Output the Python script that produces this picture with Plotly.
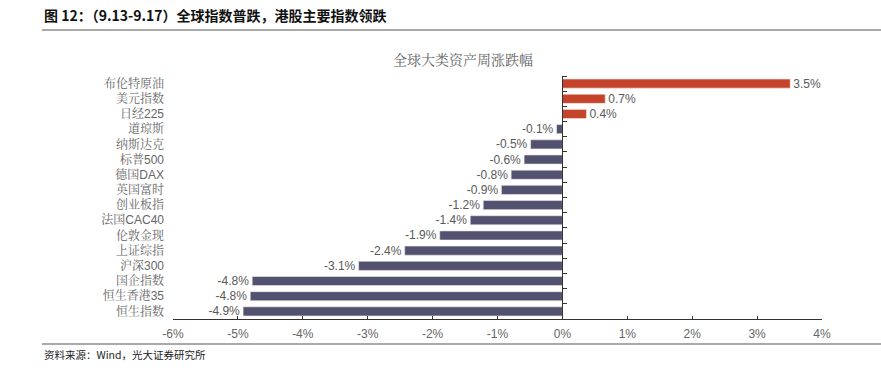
import plotly.graph_objects as go

categories = ["布伦特原油", "美元指数", "日经225", "道琼斯", "纳斯达克", "标普500", "德国DAX",
              "英国富时", "创业板指", "法国CAC40", "伦敦金现", "上证综指", "沪深300",
              "国企指数", "恒生香港35", "恒生指数"]
values = [3.51, 0.66, 0.37, -0.09, -0.49, -0.59, -0.79, -0.94, -1.22, -1.42, -1.89,
          -2.43, -3.14, -4.78, -4.81, -4.92]
x_ticks = [-6, -5, -4, -3, -2, -1, 0, 1, 2, 3, 4]

RED = "#C5432B"
NAVY = "#52516F"
colors = [RED if v > 0 else NAVY for v in values]

W, H = 881, 376
L, R, T, B = 173, 59, 76, 57
PW, PH = W - L - R, H - T - B

def px(x):
    return (x - L) / PW

def py(y):
    return (H - B - y) / PH

SERIF_MIX = "Liberation Sans, Noto Serif CJK SC, Noto Sans CJK SC, serif"
n = len(categories)

fig = go.Figure()
fig.add_trace(go.Bar(
    x=values, y=categories, orientation="h",
    marker=dict(color=colors, line=dict(color="#f3e9e6", width=0.6)),
    width=0.6,
    text=[f"{v:.1f}%" for v in values],
    textposition="outside",
    constraintext="none",
    textfont=dict(family="Liberation Sans, Arial, sans-serif", size=12, color="#595959"),
    cliponaxis=False,
    hoverinfo="skip",
))
fig.add_trace(go.Scatter(
    x=[0] * n, y=categories, yaxis="y2", mode="lines",
    line=dict(width=0), hoverinfo="skip", showlegend=False,
))

fig.update_layout(
    width=W, height=H,
    margin=dict(l=L, r=R, t=T, b=B, autoexpand=False),
    paper_bgcolor="white", plot_bgcolor="white",
    showlegend=False,
    font=dict(family="Noto Sans CJK SC, sans-serif", color="#595959"),
    xaxis=dict(
        range=[-6, 4], tickvals=x_ticks, ticktext=[f"{t}%" for t in x_ticks],
        ticks="inside", ticklen=3, tickcolor="#333", showline=True, linecolor="#333",
        linewidth=1, showgrid=False, zeroline=False, automargin=False,
        tickfont=dict(family="Liberation Sans Narrow, Arial Narrow, sans-serif", size=12, color="#666"),
        ticklabelstandoff=4,
    ),
    yaxis=dict(
        type="category", categoryorder="array", categoryarray=categories,
        range=[n - 0.5, -0.5], autorange=False,
        showgrid=False, zeroline=False,
        showline=False, ticks="", ticklabelstandoff=8, automargin=False,
        tickfont=dict(family=SERIF_MIX, size=12, color="#666"),
    ),
    yaxis2=dict(
        overlaying="y", matches="y", anchor="free", position=0.6, side="right",
        type="category", showline=True, linecolor="#333", linewidth=1, automargin=False,
        ticks="outside", ticklen=4, tickcolor="#333", tickson="boundaries",
        showticklabels=False, showgrid=False, zeroline=False,
    ),
)

fig.add_annotation(x=px(463), y=py(60), xref="paper", yref="paper", showarrow=False,
                   text="全球大类资产周涨跌幅", xanchor="center", yanchor="middle",
                   font=dict(family=SERIF_MIX, size=14, color="#666"))
fig.add_annotation(x=px(42), y=py(15), xref="paper", yref="paper", showarrow=False,
                   text="<b>图 12：（9.13-9.17）全球指数普跌，港股主要指数领跌</b>",
                   xanchor="left", yanchor="middle",
                   font=dict(family="Noto Sans CJK SC, sans-serif", size=14, color="#111"))
fig.add_annotation(x=px(42), y=py(354), xref="paper", yref="paper", showarrow=False,
                   text="资料来源：Wind，光大证券研究所", xanchor="left", yanchor="middle",
                   font=dict(family="Noto Sans CJK SC, sans-serif", size=10.5, color="#222"))
fig.add_shape(type="line", xref="paper", yref="paper", x0=px(42), x1=px(881),
              y0=py(30), y1=py(30), line=dict(color="#555", width=1))
fig.add_shape(type="line", xref="paper", yref="paper", x0=px(42), x1=px(881),
              y0=py(344), y1=py(344), line=dict(color="#555", width=1))

fig.write_html("out.html", config={"displayModeBar": False},
               post_script="document.body.style.margin='0';document.body.style.overflow='hidden';")
